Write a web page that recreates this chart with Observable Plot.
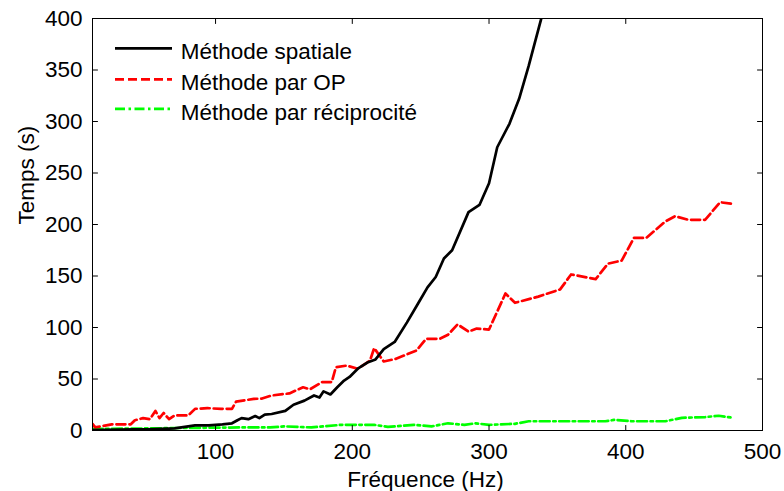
<!DOCTYPE html>
<html>
<head>
<meta charset="utf-8">
<script src="https://cdn.jsdelivr.net/npm/d3@7"></script>
<script src="https://cdn.jsdelivr.net/npm/@observablehq/plot@0.6"></script>
<style>
  html, body { margin: 0; padding: 0; background: #fff; }
  #chart { width: 784px; height: 491px; }
</style>
</head>
<body>
<div id="chart"></div>
<script>
// ---- Data ----
const seriesNames = ["Méthode spatiale", "Méthode par OP", "Méthode par réciprocité"];
const seriesColors = ["#000000", "#ff0000", "#00ff00"];
const seriesDash = [null, "9,4", "10,3.5,2.5,3.5"];

const freqSpatiale = [10,20,30,40,50,60,70,75,85,95,105,112,116,119,124,129,132,136,141,151,157,165,172,176,179,184,189,194,198,204,211,217,223,231,240,248,255,261,267,273,285,293,300,306,315,322,329,334,338,342];
const tempsSpatiale = [0.5,0.7,0.8,1,1.2,1.5,2,3,5,5,6,7,10,12,11,14,12,15.5,16,19,25,29,34,32,38,35,42,48.5,52,60,66,69,79,86,105,123,139,149,167,175,212,219,240,275,298,322,354,379,399,420];

const freqOP = [10,12,24,38,41,47,52,56,59,62,66,70,80,85,94,104,112,115,128,134,141,154,164,169,178,185,188,196,204,213,216,223,232,247,254,264,270,277,285,291,300,312,319,336,352,360,378,387,397,406,415,429,436,446,458,469,479];
const tempsOP = [6.5,3,6,6,10,12,11,19,12,17,11,14.6,14.6,21,21.7,21,21,28,30.7,31,34,36,42,40,47,47,61.5,63,60,68,80,67,69.6,77.7,89,89,93,103,96,99,98,133,124,130,137,151.5,147,162,165,187,187,203,208,204.5,204.5,221.6,220];

const freqRecip = [10,50,80,120,140,150,170,192,216,226,245,258,270,282,290,300,319,329,385,392,404,429,441,458,468,479];
const tempsRecip = [1.5,2,2.5,3,3,4,3,5.5,5.5,3.5,5.5,4,7,5.5,7,5.5,6.5,9,9,10.4,9,9,12.3,13,14.3,12.3];

const xTicks = [100, 200, 300, 400, 500];
const yTicks = [0, 50, 100, 150, 200, 250, 300, 350, 400];
const xLabel = "Fréquence (Hz)";
const yLabel = "Temps (s)";

// ---- Build tables ----
const toRows = (fs, ts) => fs.map((f, i) => ({f, t: ts[i]}));
const rowsS = toRows(freqSpatiale, tempsSpatiale);
const rowsO = toRows(freqOP, tempsOP);
const rowsR = toRows(freqRecip, tempsRecip);

const tickShape = { draw(context, l) { context.moveTo(0, 0); context.lineTo(0, -l); } };
const FONT = "'Liberation Sans', Arial, sans-serif";
const LW = 2.7;

const svg = Plot.plot({
  width: 784,
  height: 491,
  marginLeft: 92,
  marginRight: 22,
  marginTop: 18,
  marginBottom: 61,
  style: { fontFamily: FONT, fontSize: "22.5px", background: "white", color: "black", overflow: "visible" },
  x: { domain: [10, 500], ticks: xTicks },
  y: { domain: [0, 400], ticks: yTicks },
  marks: [
    Plot.axisX(xTicks, { tickSize: 0, tickPadding: 13, label: null, fontSize: 22.5 }),
    Plot.axisY(yTicks, { tickSize: 0, tickPadding: 10, label: null, fontSize: 22.5 }),
    Plot.line(rowsR, { x: "f", y: "t", stroke: seriesColors[2], strokeWidth: LW, strokeDasharray: seriesDash[2], clip: true }),
    Plot.line(rowsO, { x: "f", y: "t", stroke: seriesColors[1], strokeWidth: LW, strokeDasharray: seriesDash[1], clip: true }),
    Plot.line(rowsS, { x: "f", y: "t", stroke: seriesColors[0], strokeWidth: LW, clip: true }),
    Plot.vector(yTicks, { y: d => d, frameAnchor: "left", length: 5, rotate: 90, anchor: "start", shape: tickShape, stroke: "black", strokeWidth: 1 }),
    Plot.vector(yTicks, { y: d => d, frameAnchor: "right", length: 5, rotate: -90, anchor: "start", shape: tickShape, stroke: "black", strokeWidth: 1 }),
    Plot.vector(xTicks, { x: d => d, frameAnchor: "bottom", length: 5, rotate: 0, anchor: "start", shape: tickShape, stroke: "black", strokeWidth: 1 }),
    Plot.vector(xTicks, { x: d => d, frameAnchor: "top", length: 5, rotate: 180, anchor: "start", shape: tickShape, stroke: "black", strokeWidth: 1 }),
    Plot.frame({ stroke: "black", strokeWidth: 1 }),
    Plot.text([xLabel], { text: d => d, frameAnchor: "bottom", lineAnchor: "bottom", dy: 56.7, dx: -2, fontSize: 22.5, fill: "black" }),
    Plot.text([yLabel], { text: d => d, frameAnchor: "left", lineAnchor: "bottom", rotate: -90, dx: -58.7, fontSize: 22.5, fill: "black" })
  ]
});

document.getElementById("chart").appendChild(svg);

// ---- Legend (inside the plot, top-left, no box) ----
const g = d3.select(svg).append("g")
  .attr("font-family", FONT)
  .attr("font-size", 22.5)
  .attr("text-anchor", "start");
const legendY = [48.3, 79.3, 108.8];
seriesNames.forEach((name, i) => {
  g.append("line")
    .attr("x1", 115).attr("x2", 172)
    .attr("y1", legendY[i]).attr("y2", legendY[i])
    .attr("stroke", seriesColors[i])
    .attr("stroke-width", LW)
    .attr("stroke-dasharray", seriesDash[i]);
  g.append("text")
    .attr("x", 180.7).attr("y", legendY[i] + 11)
    .attr("text-anchor", "start")
    .attr("fill", "black")
    .text(name);
});
</script>
</body>
</html>
